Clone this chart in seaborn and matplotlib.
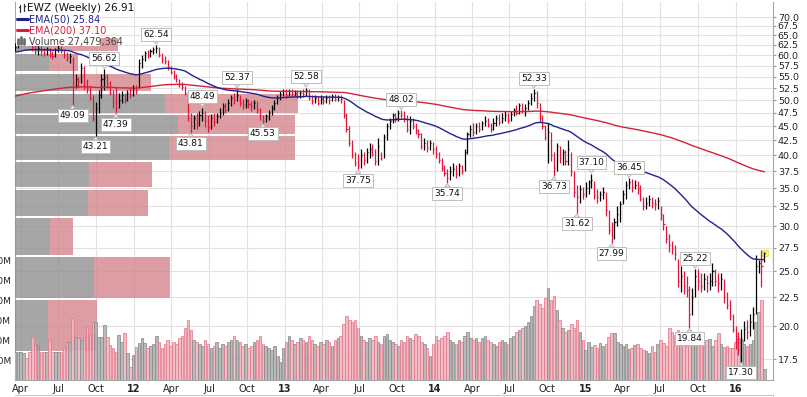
import numpy as np
import pandas as pd
import matplotlib
matplotlib.use("Agg")
import matplotlib.pyplot as plt
import matplotlib.dates as mdates
from matplotlib.lines import Line2D
from matplotlib.patches import Rectangle
from matplotlib.ticker import NullLocator, NullFormatter
import seaborn as sns

# EWZ weekly bars, first bar = week ending 2011-03-18
first_week = "2011-03-18"

close = [
    62.0, 63.5, 64.5, 65.5, 64.0, 63.0, 62.0, 61.0, 61.8, 61.0,
    60.5, 61.5, 60.2, 59.8, 61.2, 61.8, 61.0, 60.0, 59.2, 59.8,
    53.5, 54.5, 54.0, 57.0, 53.0, 52.5, 50.5, 46.5, 48.5, 51.0,
    54.5, 55.0, 53.5, 51.5, 49.5, 48.5, 50.0, 51.0, 50.2, 51.5,
    51.0, 52.5, 52.0, 58.0, 59.0, 60.5, 60.0, 61.0, 61.5, 61.8,
    60.0, 59.0, 58.5, 57.2, 56.0, 55.2, 54.5, 53.3, 52.8, 51.5,
    46.5, 45.0, 46.5, 45.5, 47.0, 47.5, 46.0, 44.8, 46.5, 45.8,
    46.8, 47.5, 48.8, 48.0, 49.5, 50.5, 50.0, 51.0, 49.5, 49.0,
    49.8, 49.2, 48.8, 49.5, 48.2, 46.8, 46.0, 46.8, 47.5, 48.5,
    49.5, 50.5, 51.2, 51.8, 51.0, 51.8, 51.2, 51.5, 50.8, 51.5,
    51.2, 52.0, 50.5, 49.8, 50.5, 49.5, 50.2, 49.8, 50.5, 50.0,
    50.8, 50.3, 50.6, 50.2, 47.0, 44.5, 42.0, 40.0, 38.8, 38.5,
    40.0, 39.2, 40.5, 41.0, 40.2, 39.0, 41.5, 39.5, 43.0, 45.0,
    46.0, 47.0, 46.5, 47.5, 47.0, 46.5, 44.5, 46.0, 45.0, 44.2,
    43.5, 41.5, 42.0, 41.2, 42.0, 41.0, 40.2, 39.2, 38.0, 37.2,
    36.5, 37.5, 37.8, 37.0, 38.2, 37.5, 40.5, 43.5, 44.5, 44.0,
    45.0, 44.5, 45.5, 46.0, 45.2, 44.5, 45.5, 46.5, 45.8, 46.5,
    47.0, 46.2, 47.2, 48.0, 47.5, 49.0, 48.0, 48.5, 49.5, 50.5,
    51.5, 49.5, 46.5, 45.0, 43.0, 44.0, 40.0, 38.0, 41.5, 39.5,
    40.5, 39.0, 41.0, 37.5, 34.5, 33.8, 34.8, 34.2, 35.0, 35.8,
    36.2, 34.0, 33.8, 34.2, 34.5, 32.0, 29.5, 28.8, 30.5, 31.5,
    32.8, 34.2, 35.5, 35.8, 35.2, 35.5, 35.0, 33.5, 32.5, 33.0,
    33.5, 33.0, 32.8, 33.2, 31.5, 30.2, 28.5, 27.8, 27.5, 26.8,
    24.0, 24.5, 23.5, 23.2, 21.0, 22.5, 24.5, 24.0, 23.5, 24.2,
    23.8, 24.0, 25.0, 24.0, 23.8, 24.2, 22.5, 21.8, 20.8, 19.8,
    19.2, 18.2, 19.0, 19.8, 19.5, 20.3, 21.0, 25.5, 25.8, 25.5,
    26.91,
]

high = [
    63.0, 64.0, 65.0, 66.5, 66.0, 64.5, 63.5, 62.5, 62.5, 62.2,
    61.8, 62.0, 61.8, 61.0, 61.8, 62.5, 62.3, 61.5, 60.8, 60.6,
    59.6, 55.5, 55.0, 58.2, 57.5, 54.5, 53.0, 51.0, 49.6, 52.0,
    55.5, 56.62, 55.5, 54.0, 52.0, 52.8, 51.5, 51.8, 51.5, 52.0,
    52.5, 53.2, 53.2, 59.0, 60.0, 61.0, 61.2, 61.5, 62.0, 62.54,
    62.0, 60.5, 59.8, 58.8, 57.5, 56.5, 55.5, 54.5, 53.8, 53.0,
    51.8, 47.5, 47.0, 47.5, 47.8, 48.49, 47.8, 47.0, 47.2, 47.5,
    47.5, 48.5, 49.5, 49.5, 50.2, 51.0, 51.5, 52.37, 51.0, 50.2,
    50.5, 50.2, 49.8, 50.0, 49.8, 48.5, 47.0, 47.2, 48.0, 49.0,
    50.0, 51.0, 51.8, 52.3, 52.2, 52.3, 52.2, 52.0, 52.0, 52.0,
    52.3, 52.58, 52.2, 51.0, 51.0, 50.8, 51.0, 50.8, 51.0, 51.0,
    51.2, 51.2, 51.0, 51.0, 50.0, 47.5, 45.0, 42.5, 40.5, 40.2,
    41.0, 40.5, 41.2, 42.0, 41.8, 41.0, 42.8, 40.5, 43.5, 45.5,
    46.5, 47.5, 47.5, 48.0, 48.02, 47.8, 47.0, 46.8, 46.5, 45.5,
    44.5, 43.8, 42.8, 42.5, 42.5, 42.2, 41.5, 40.5, 39.5, 38.5,
    37.8, 38.2, 38.8, 38.5, 38.8, 38.5, 41.0, 44.0, 45.2, 45.5,
    45.5, 45.8, 46.0, 46.8, 46.5, 45.5, 46.5, 47.0, 47.2, 47.5,
    47.8, 47.5, 47.8, 48.5, 49.0, 49.5, 49.5, 49.2, 50.0, 51.5,
    52.33, 51.8, 49.5, 47.0, 45.2, 45.5, 44.0, 40.5, 42.0, 41.5,
    41.0, 40.8, 42.5, 40.5, 37.5, 35.5, 35.5, 35.2, 35.8, 36.2,
    37.10, 36.0, 34.8, 34.6, 35.2, 34.5, 32.0, 30.5, 31.0, 32.5,
    33.2, 34.7, 36.0, 36.45, 36.3, 36.2, 36.0, 35.5, 33.8, 33.8,
    34.0, 33.8, 33.5, 33.8, 32.5, 31.5, 30.0, 29.0, 28.2, 27.8,
    26.3, 25.5, 25.0, 24.5, 23.5, 23.3, 25.22, 25.2, 24.8, 24.8,
    24.6, 24.8, 25.8, 25.2, 24.8, 24.8, 24.2, 23.0, 22.2, 21.0,
    20.0, 19.5, 19.8, 20.4, 20.5, 21.0, 21.6, 26.7, 26.2, 27.2,
    27.05,
]

low = [
    61.0, 61.8, 63.2, 64.0, 63.5, 62.2, 61.0, 60.2, 60.0, 60.0,
    59.8, 60.0, 59.5, 59.0, 59.5, 60.8, 60.5, 59.2, 58.5, 58.2,
    49.09, 52.5, 52.8, 53.5, 52.3, 51.5, 50.0, 46.0, 43.21, 47.5,
    50.5, 52.0, 52.5, 51.0, 48.5, 47.39, 48.5, 49.5, 49.5, 49.8,
    50.5, 50.8, 51.2, 52.5, 57.0, 58.5, 59.2, 59.5, 60.2, 60.5,
    59.5, 58.2, 57.8, 56.5, 55.5, 54.5, 53.8, 52.8, 52.0, 51.0,
    46.0, 43.81, 44.5, 44.5, 45.0, 46.0, 44.8, 43.9, 44.5, 45.0,
    45.5, 46.5, 47.0, 47.5, 47.8, 48.8, 49.2, 49.8, 48.8, 48.2,
    48.5, 48.5, 47.8, 48.2, 47.5, 46.2, 45.53, 45.8, 46.2, 47.0,
    48.0, 49.2, 50.0, 50.8, 50.5, 50.8, 50.7, 50.8, 50.5, 50.5,
    50.7, 50.8, 50.0, 49.2, 49.5, 49.0, 49.3, 49.2, 49.5, 49.3,
    49.8, 49.8, 49.8, 49.5, 46.5, 44.0, 41.5, 39.5, 38.2, 37.75,
    38.0, 38.5, 38.8, 39.5, 39.8, 38.5, 38.5, 39.2, 39.5, 42.5,
    44.5, 45.5, 45.8, 46.0, 46.5, 45.8, 44.0, 43.5, 44.5, 43.5,
    42.8, 41.0, 40.8, 40.5, 40.8, 40.2, 39.5, 38.8, 37.5, 36.8,
    35.74, 36.2, 36.8, 36.5, 36.8, 37.0, 37.5, 40.2, 43.0, 43.2,
    43.5, 44.0, 44.2, 45.0, 44.8, 44.0, 44.2, 45.0, 45.2, 45.5,
    46.0, 45.5, 46.0, 46.8, 47.0, 47.2, 47.5, 46.8, 48.0, 49.0,
    49.8, 48.5, 45.8, 44.5, 42.5, 38.8, 39.0, 36.73, 37.5, 38.8,
    38.5, 38.5, 38.5, 36.8, 33.8, 31.62, 33.0, 33.5, 33.8, 34.2,
    35.0, 33.5, 33.0, 33.2, 33.5, 31.2, 29.0, 27.99, 28.5, 30.0,
    30.5, 32.8, 33.5, 34.8, 34.5, 34.8, 34.2, 33.2, 32.0, 32.2,
    32.5, 32.3, 32.0, 32.2, 30.8, 29.5, 28.0, 27.0, 26.8, 26.2,
    23.4, 23.0, 22.8, 22.5, 19.84, 20.9, 22.5, 23.2, 23.0, 23.2,
    23.0, 23.2, 23.5, 23.5, 23.0, 23.2, 22.0, 21.4, 20.5, 19.5,
    18.2, 17.8, 17.30, 18.8, 19.0, 19.2, 19.8, 21.0, 24.8, 23.4,
    25.9,
]

# weekly volume, millions of shares
volume = [
    71, 71, 71, 68, 54, 71, 108, 88, 88, 71,
    71, 71, 100, 71, 71, 71, 71, 83, 96, 96,
    154, 108, 104, 100, 108, 133, 112, 146, 146, 108,
    108, 137, 108, 88, 79, 71, 112, 96, 117, 67,
    33, 62, 83, 92, 104, 92, 80, 85, 90, 110,
    95, 80, 90, 100, 85, 95, 90, 105, 110, 130,
    150, 125, 100, 95, 90, 85, 100, 90, 80, 85,
    95, 80, 90, 85, 95, 100, 110, 100, 95, 85,
    90, 80, 85, 95, 100, 110, 90, 85, 80, 75,
    85, 60, 45, 80, 95, 110, 100, 90, 95, 105,
    100, 95, 110, 100, 90, 85, 95, 90, 100, 95,
    85, 100, 105, 110, 140, 160, 150, 145, 150, 130,
    110, 100, 95, 105, 100, 110, 95, 90, 110, 115,
    100, 95, 90, 85, 100, 95, 110, 105, 100, 115,
    110, 95, 90, 80, 60, 90, 110, 100, 105, 110,
    120, 100, 95, 90, 100, 95, 110, 120, 105, 100,
    105, 95, 105, 110, 100, 95, 90, 85, 95, 100,
    95, 90, 105, 110, 120, 125, 130, 135, 145, 160,
    185, 200, 190, 180, 205, 230, 200, 210, 175, 150,
    130, 120, 125, 140, 130, 150, 120, 100, 75, 95,
    83, 87, 79, 92, 85, 90, 108, 117, 117, 96,
    90, 85, 90, 78, 80, 88, 90, 80, 75, 72,
    67, 85, 70, 90, 100, 92, 85, 129, 121, 112,
    125, 100, 102, 85, 125, 120, 90, 85, 90, 85,
    100, 102, 85, 100, 117, 90, 82, 85, 80, 80,
    95, 105, 100, 90, 85, 90, 100, 146, 171, 200,
    27.479364,
]

# volume-by-price zones (price edges) with up / down volume totals
vbp_edges = [18.02, 22.33, 26.58, 31.13, 34.93, 39.06, 43.40, 47.25, 51.55, 55.90, 60.62, 64.55]
vbp_up = [330, 790, 350, 730, 740, 1540, 1630, 1500, 570, 340, 340]
vbp_down = [490, 760, 230, 600, 630, 1260, 1170, 1330, 790, 290, 690]

# EMA values at the first visible week
ema50_start = 60.7
ema200_start = 50.8
ema50_last = 25.84
ema200_last = 37.10

peak_weeks = [31, 49, 65, 77, 101, 134, 180, 200, 213, 236]
trough_weeks = [20, 28, 35, 61, 86, 119, 150, 187, 195, 207, 234, 252]


def ema(values, span, start):
    alpha = 2.0 / (span + 1)
    out = [start]
    for v in values[1:]:
        out.append(out[-1] + alpha * (v - out[-1]))
    return np.array(out)


sns.set_style("white")
plt.rcParams["font.family"] = ["DejaVu Sans"]

W, H = 807, 397


def fx(px):
    return px / W


def fy(py):
    return 1 - py / H


weeks = pd.date_range(first_week, periods=len(close), freq="W-FRI")
xd = mdates.date2num(weeks)
is_up = [True] + [close[i] > close[i - 1] for i in range(1, len(close))]

up_col, dn_col = "#000000", "#e0173a"
bar_cols = [up_col if u else dn_col for u in is_up]

ema50 = ema(close, 50, ema50_start)
ema200 = ema(close, 200, ema200_start)

fig = plt.figure(figsize=(W / 100, H / 100), dpi=100)
rect = [fx(15), 1 - 380 / H, 758 / W, 378 / H]
ax = fig.add_axes(rect, label="grid")
ax_vbp = fig.add_axes(rect, label="vbp")
ax_vol = fig.add_axes(rect, label="vol")
ax_px = fig.add_axes(rect, label="price")

xlim = (xd[0], xd[0] + 263 * 7)
ylim = (16.08, 74.39)

# base axes: grid, price scale on the right, dates at the bottom
ax.set_yscale("log")
ax.set_xlim(*xlim)
ax.set_ylim(*ylim)
price_ticks = np.arange(17.5, 70.01, 2.5)
ax.set_yticks(price_ticks, labels=[f"{t:.1f}" for t in price_ticks])
ax.yaxis.set_minor_locator(NullLocator())
ax.yaxis.set_minor_formatter(NullFormatter())
ax.yaxis.tick_right()
ax.tick_params(axis="y", direction="out", length=2.5, width=0.8, color="#9a9a9a",
               labelsize=6.8, labelcolor="#222222", pad=1)
q_ticks = pd.date_range("2011-04-01", "2016-01-01", freq="QS")
q_labels = [f"{d.year % 100:02d}" if d.month == 1 else d.strftime("%b") for d in q_ticks]
ax.set_xticks(mdates.date2num(q_ticks), labels=q_labels)
ax.tick_params(axis="x", length=0, labelsize=7, labelcolor="#222222", pad=3)
for lab, d in zip(ax.get_xticklabels(), q_ticks):
    if d.month == 1:
        lab.set_fontweight("bold")
ax.grid(True, color="#e2e2e2", lw=0.8)
ax.set_axisbelow(True)
ax.spines["top"].set_visible(False)
for s in ["left", "right", "bottom"]:
    ax.spines[s].set_color("#a8a8a8")
    ax.spines[s].set_linewidth(0.8)

# volume by price
gap = 1.0045
lo = np.array(vbp_edges[:-1]) * gap
hi = np.array(vbp_edges[1:]) / gap
ax_vbp.set_yscale("log")
ax_vbp.barh(lo, vbp_up, height=hi - lo, align="edge", color="#909090", alpha=0.8, lw=0)
ax_vbp.barh(lo, vbp_down, height=hi - lo, left=vbp_up, align="edge", color="#d4868b",
            alpha=0.8, lw=0)
ax_vbp.set_xlim(0, 7580)
ax_vbp.set_ylim(*ylim)
ax_vbp.axis("off")

# volume bars
vol_face = ["#b3b3b3" if u else "#f3b5bf" for u in is_up]
vol_edge = ["#8a8a8a" if u else "#e07a8c" for u in is_up]
ax_vol.bar(xd, volume, width=6.2, color=vol_face, edgecolor=vol_edge, linewidth=0.6, alpha=0.9)
ax_vol.set_xlim(*xlim)
ax_vol.set_ylim(0, 945)
ax_vol.patch.set_visible(False)
for s in ax_vol.spines.values():
    s.set_visible(False)
vol_ticks = [50, 100, 150, 200, 250, 300]
ax_vol.set_yticks(vol_ticks, labels=[f"{v}M" for v in vol_ticks])
ax_vol.tick_params(axis="y", direction="out", length=2.5, width=0.8, color="#9a9a9a",
                   labelsize=6.5, labelcolor="#222222", pad=0.3)
ax_vol.tick_params(axis="x", length=0, labelbottom=False)

# price bars, EMAs, labels
ax_px.set_yscale("log")
last = len(close) - 1
ax_px.add_patch(Rectangle((xd[last] - 6, close[last] / 1.012), 14,
                          high[last] * 1.008 - close[last] / 1.012,
                          facecolor="#fbf35a", edgecolor="#e8d840", lw=0.5, zorder=1))
ax_px.vlines(xd, low, high, colors=bar_cols, lw=0.9, zorder=3)
ax_px.hlines(close, xd, xd + 2.6, colors=bar_cols, lw=0.9, zorder=3)

sns.lineplot(x=xd, y=ema200, ax=ax_px, color="#d4203f", linewidth=1.0,
             estimator=None, sort=False, legend=False, zorder=4)
sns.lineplot(x=xd, y=ema50, ax=ax_px, color="#22228f", linewidth=1.0,
             estimator=None, sort=False, legend=False, zorder=4)

box = dict(boxstyle="square,pad=0.22", fc="white", ec="#bdbdbd", lw=0.7)
arrow = dict(arrowstyle="wedge,tail_width=0.55,shrink_factor=0.5", fc="white",
             ec="#b5b5b5", lw=0.7, shrinkA=0, shrinkB=0.5)
for i in peak_weeks:
    ax_px.annotate(f"{high[i]:.2f}", xy=(xd[i], high[i]), xytext=(0, 4.5),
                   textcoords="offset points", ha="center", va="bottom", fontsize=6.5,
                   color="#111111", bbox=box, arrowprops=arrow, zorder=6)
for i in trough_weeks:
    ax_px.annotate(f"{low[i]:.2f}", xy=(xd[i], low[i]), xytext=(0, -4.5),
                   textcoords="offset points", ha="center", va="top", fontsize=6.5,
                   color="#111111", bbox=box, arrowprops=arrow, zorder=6)

ax_px.set_xlim(*xlim)
ax_px.set_ylim(*ylim)
ax_px.axis("off")


# legend block (top left), drawn on a white backing like the source chart
def fig_line(xs, ys, **kw):
    fig.add_artist(Line2D([fx(v) for v in xs], [fy(v) for v in ys], **kw))


fig.add_artist(Rectangle((fx(15.5), fy(46)), fx(100) - fx(15.5), fy(2) - fy(46),
                         transform=fig.transFigure, facecolor="white", edgecolor="none"))
fig.add_artist(Rectangle((fx(15.5), fy(14)), fx(134) - fx(15.5), fy(2) - fy(14),
                         transform=fig.transFigure, facecolor="white", edgecolor="none"))

fig_line([20, 20], [5, 12], color="#333333", lw=0.9)
fig_line([18.5, 20], [7, 7], color="#333333", lw=0.9)
fig_line([24, 24], [4, 11], color="#333333", lw=0.9)
fig_line([24, 25.5], [6, 6], color="#333333", lw=0.9)
fig.text(fx(27), fy(8), f"EWZ (Weekly) {close[-1]:.2f}", fontsize=7.6, color="#111111",
         va="center", ha="left")
fig_line([17, 28], [19, 19], color="#22228f", lw=2.2)
fig.text(fx(29), fy(19.5), f"EMA(50) {ema50_last:.2f}", fontsize=6.9, color="#22228f",
         va="center", ha="left")
fig_line([17, 28], [30, 30], color="#d4203f", lw=2.2)
fig.text(fx(29), fy(30.5), f"EMA(200) {ema200_last:.2f}", fontsize=6.9, color="#d4203f",
         va="center", ha="left")
for bx, top in [(18, 39), (21, 37), (24, 38.5)]:
    fig_line([bx, bx], [44, top], color="#6a6a6a", lw=2.0)
fig.text(fx(29), fy(41.5), f"Volume {volume[-1] * 1e6:,.0f}", fontsize=6.9, color="#444444",
         va="center", ha="left")

# top edge of the next panel
fig_line([15, 773], [394.5, 394.5], color="#c8c8c8", lw=0.8)
fig_line([773, 773], [394.5, 397], color="#c8c8c8", lw=0.8)

fig.savefig("out.png", dpi=100)
